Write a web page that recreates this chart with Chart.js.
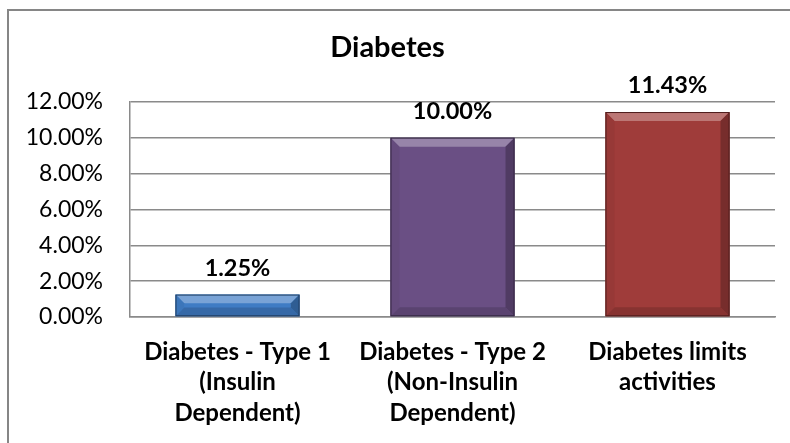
<!DOCTYPE html>
<html lang="en">
<head>
    <meta charset="UTF-8">
    <title>Diabetes</title>
    <script src="https://cdn.jsdelivr.net/npm/chart.js"></script>
    <style>
        html, body {
            margin: 0;
            padding: 0;
            background: #fff;
            overflow: hidden;
        }
        .frame {
            position: absolute;
            left: 7px;
            top: 9px;
            width: 900px;
            height: 600px;
            border-left: 2px solid #868686;
            border-top: 2px solid #868686;
        }
        .wrap {
            position: absolute;
            left: 0;
            top: 0;
            width: 790px;
            height: 443px;
        }
    </style>
</head>
<body>
    <div class="frame"></div>
    <div class="wrap"><canvas id="chart" width="790" height="443"></canvas></div>
    <script>
        // values
        const categories = [
            ['Diabetes - Type 1', '(Insulin', 'Dependent)'],
            ['Diabetes - Type 2', '(Non-Insulin', 'Dependent)'],
            ['Diabetes limits', 'activities']
        ];
        const percentages = [1.25, 10.00, 11.43];
        const barColors = ['#3F7CC4', '#6A4F84', '#9F3C3A'];
        const yTicks = [0, 2, 4, 6, 8, 10, 12];

        const fontFamily = 'Lato, "Open Sans", sans-serif';

        function shade(hex, amt) {
            const n = parseInt(hex.slice(1), 16);
            let r = (n >> 16) & 255, g = (n >> 8) & 255, b = n & 255;
            const f = v => Math.max(0, Math.min(255, Math.round(amt > 0 ? v + (255 - v) * amt : v * (1 + amt))));
            return 'rgb(' + f(r) + ',' + f(g) + ',' + f(b) + ')';
        }

        // bevel + value labels drawn from the bar elements the library laid out
        const bevelLabels = {
            id: 'bevelLabels',
            afterDatasetsDraw(chart) {
                const ctx = chart.ctx;
                const meta = chart.getDatasetMeta(0);
                meta.data.forEach((bar, i) => {
                    const p = bar.getProps(['x', 'y', 'base', 'width'], true);
                    const l = p.x - p.width / 2, r = p.x + p.width / 2;
                    const t = p.y, b = p.base;
                    const h = b - t;
                    const bv = Math.min(9, h / 2.5);
                    const c = barColors[i];
                    ctx.save();
                    // top bevel
                    ctx.fillStyle = shade(c, 0.3);
                    ctx.beginPath();
                    ctx.moveTo(l, t); ctx.lineTo(r, t); ctx.lineTo(r - bv, t + bv); ctx.lineTo(l + bv, t + bv);
                    ctx.closePath(); ctx.fill();
                    // bottom bevel
                    ctx.fillStyle = shade(c, -0.15);
                    ctx.beginPath();
                    ctx.moveTo(l, b); ctx.lineTo(r, b); ctx.lineTo(r - bv, b - bv); ctx.lineTo(l + bv, b - bv);
                    ctx.closePath(); ctx.fill();
                    // left bevel
                    ctx.fillStyle = shade(c, -0.05);
                    ctx.beginPath();
                    ctx.moveTo(l, t); ctx.lineTo(l + bv, t + bv); ctx.lineTo(l + bv, b - bv); ctx.lineTo(l, b);
                    ctx.closePath(); ctx.fill();
                    // right bevel
                    ctx.fillStyle = shade(c, -0.25);
                    ctx.beginPath();
                    ctx.moveTo(r, t); ctx.lineTo(r - bv, t + bv); ctx.lineTo(r - bv, b - bv); ctx.lineTo(r, b);
                    ctx.closePath(); ctx.fill();
                    ctx.strokeStyle = shade(c, -0.5);
                    ctx.lineWidth = 1;
                    ctx.strokeRect(l + 0.5, t + 0.5, p.width - 1, h - 1);
                    // value label
                    ctx.fillStyle = '#000';
                    ctx.font = 'bold 23.5px ' + fontFamily;
                    ctx.textAlign = 'center';
                    ctx.textBaseline = 'alphabetic';
                    ctx.fillText(percentages[i].toFixed(2) + '%', p.x, t - 19);
                    ctx.restore();
                });
            }
        };

        new Chart(document.getElementById('chart'), {
            type: 'bar',
            data: {
                labels: categories,
                datasets: [{
                    data: percentages,
                    backgroundColor: barColors,
                    borderWidth: 0,
                    categoryPercentage: 0.577,
                    barPercentage: 1
                }]
            },
            options: {
                responsive: false,
                animation: false,
                layout: { padding: { left: 0, right: 15, top: 0, bottom: 0 } },
                plugins: {
                    legend: { display: false },
                    tooltip: { enabled: false },
                    title: {
                        display: true,
                        text: 'Diabetes',
                        color: '#000',
                        font: { family: fontFamily, size: 29, weight: 'bold', lineHeight: 1.2 },
                        padding: { top: 30, bottom: 37 }
                    }
                },
                scales: {
                    x: {
                        grid: { display: false, drawTicks: false },
                        border: { display: true, color: '#8a8a8a', width: 1.5 },
                        ticks: {
                            color: '#000',
                            padding: 20,
                            maxRotation: 0,
                            autoSkip: false,
                            font: { family: fontFamily, size: 24, weight: 'bold', lineHeight: 1.27 }
                        },
                        afterFit(scale) { scale.height = 126; }
                    },
                    y: {
                        min: yTicks[0],
                        max: yTicks[yTicks.length - 1],
                        afterBuildTicks(scale) {
                            scale.ticks = yTicks.map(v => ({ value: v }));
                        },
                        grid: { color: '#8a8a8a', lineWidth: 1.5, drawTicks: false },
                        border: { display: true, color: '#8a8a8a', width: 1.5 },
                        ticks: {
                            color: '#000',
                            padding: 27,
                            font: { family: fontFamily, size: 23 },
                            callback: v => v.toFixed(2) + '%'
                        },
                        afterFit(scale) { scale.width = 130; }
                    }
                }
            },
            plugins: [bevelLabels]
        });
    </script>
</body>
</html>
